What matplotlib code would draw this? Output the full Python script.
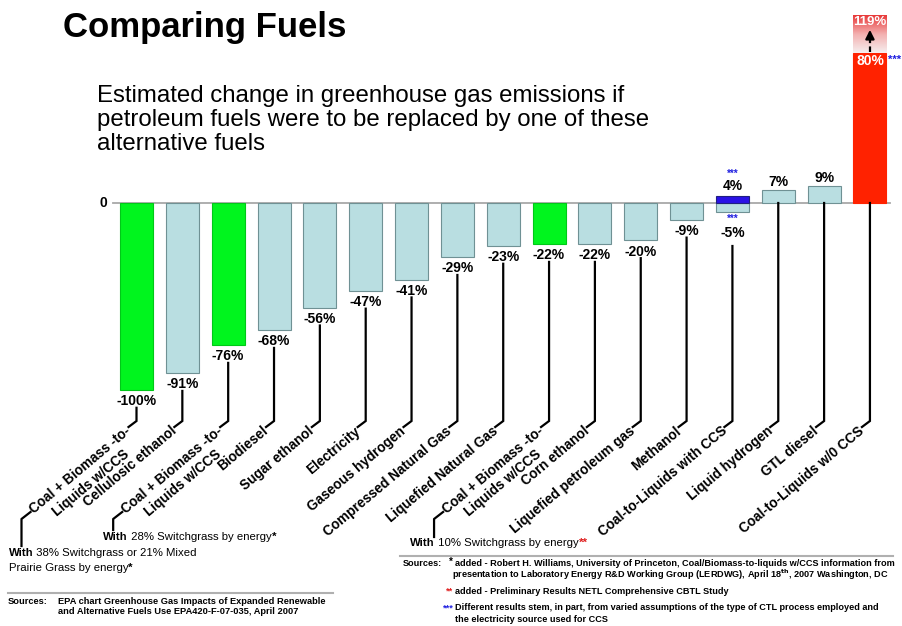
import numpy as np
import matplotlib.pyplot as plt
from matplotlib.colors import LinearSegmentedColormap
from matplotlib.lines import Line2D

plt.rcParams['font.family'] = ['Liberation Sans', 'DejaVu Sans']

# values (% change vs petroleum)
fuels = ["Coal + Biomass -to-\nLiquids w/CCS", "Cellulosic ethanol",
         "Coal + Biomass -to-\nLiquids w/CCS", "Biodiesel", "Sugar ethanol",
         "Electricity", "Gaseous hydrogen", "Compressed Natural Gas",
         "Liquefied Natural Gas", "Coal + Biomass -to-\nLiquids w/CCS",
         "Corn ethanol", "Liquefied petroleum gas", "Methanol",
         "Coal-to-Liquids with CCS", "Liquid hydrogen", "GTL diesel",
         "Coal-to-Liquids w/0 CCS"]
change = [-100, -91, -76, -68, -56, -47, -41, -29, -23, -22, -22, -20, -9,
          -5, 7, 9, 80]
group = ['cbtl', 'other', 'cbtl', 'other', 'other', 'other', 'other', 'other',
         'other', 'cbtl', 'other', 'other', 'other', 'ccs', 'other', 'other',
         'ctl']
ccs_upper = 4     # second estimate for CTL with CCS
ctl_upper = 119   # second estimate for CTL without CCS

note_bar = [0, 2, 9]
note_text = [["With 38% Switchgrass or 21% Mixed", "Prairie Grass by energy"],
             ["With 28% Switchgrass by energy"],
             ["With 10% Switchgrass by energy"]]
note_star = ["*", "*", "**"]

palette = {'cbtl': '#00F51E', 'other': '#B9DEE1', 'ccs': '#B9DEE1', 'ctl': '#FF2200'}
edges = {'cbtl': '#00C818', 'other': '#6F9194', 'ccs': '#6F9194', 'ctl': '#FF2200'}

# pixel layout of the original picture
W, H = 902, 626
X0, DX = 136.5, 45.84   # centre of first bar, bar spacing
Y0, DY = 203, 1.87      # zero line, pixels per percent


def xpx(p):
    return (p - X0) / DX


def ypx(p):
    return (Y0 - p) / DY


fig = plt.figure(figsize=(W / 100, H / 100), dpi=100)
ax = fig.add_axes([0, 0, 1, 1])
ax.axis('off')

x = np.arange(len(fuels))
bw = 0.72
ax.axhline(0, xmin=113 / W, xmax=890 / W, color='#A8A8A8', lw=1.3, zorder=1)
ax.bar(x, change, width=bw, color=[palette[g] for g in group],
       edgecolor=[edges[g] for g in group], linewidth=0.8, zorder=2)
i_ccs = group.index('ccs')
ax.bar(i_ccs, ccs_upper, width=bw, color='#2A12E6', edgecolor='#202080',
       linewidth=0.8, zorder=2)
ax.text(xpx(103), 0, '0', ha='center', va='center', fontsize=10, fontweight='bold')

# faded top of the coal-to-liquids bar
i_ctl = group.index('ctl')
top = min(ctl_upper, 100)
fade = LinearSegmentedColormap.from_list('fade', ['#F6EEEE', '#F3B0B0', '#E83A3A'])
ax.imshow(np.linspace(0, 1, 64).reshape(-1, 1), cmap=fade, origin='lower',
          extent=(i_ctl - bw / 2, i_ctl + bw / 2, change[i_ctl], top),
          aspect='auto', zorder=2)
ax.plot([i_ctl, i_ctl], [change[i_ctl] + 0.5, ypx(37)], color='k', lw=1.6,
        dashes=(2.5, 1.5), zorder=3)
ax.annotate('', xy=(i_ctl, ypx(27)), xytext=(i_ctl, ypx(38)),
            arrowprops=dict(arrowstyle='-|>', color='k', lw=1.6, mutation_scale=13),
            zorder=3)
ax.text(i_ctl, ypx(22), f'{ctl_upper}%', color='white', ha='center', va='center',
        fontsize=9.5, fontweight='bold', zorder=4)
ax.text(i_ctl, ypx(61), f'{change[i_ctl]}%', color='white', ha='center',
        va='center', fontsize=10, fontweight='bold', zorder=4)
ax.text(xpx(888), ypx(60), '***', color='#2020E0', ha='left', va='center',
        fontsize=8, fontweight='bold')

# value labels
lab = dict(ha='center', fontsize=10, fontweight='bold', textcoords='offset points')
star = dict(ha='center', fontsize=7, fontweight='bold', color='#2020E0',
            textcoords='offset points')
for i, v in enumerate(change):
    if group[i] == 'ctl':
        continue
    if group[i] == 'ccs':
        ax.annotate(f'{v}%', (i, v), xytext=(0, -10), va='top', **lab)
        ax.annotate('***', (i, v), xytext=(0, -1), va='top', **star)
        ax.annotate(f'{ccs_upper}%', (i, ccs_upper), xytext=(0, 1.5), va='bottom', **lab)
        ax.annotate('***', (i, ccs_upper), xytext=(0, 12), va='bottom', **star)
    elif v < 0:
        ax.annotate(f'{v}%', (i, v), xytext=(0, -3), va='top', **lab)
    else:
        ax.annotate(f'{v}%', (i, v), xytext=(0, 1), va='bottom', **lab)

# leader lines and rotated category labels
for i, v in enumerate(change):
    if group[i] == 'ccs':
        y0 = v - 18
    elif v < 0:
        y0 = v - 9.5
    else:
        y0 = 0
    ax.plot([i, i, i - 8 / DX], [y0, ypx(421), ypx(427)], color='k', lw=1.6,
            solid_joinstyle='miter', zorder=3)
    ax.text(i - 12 / DX, ypx(424), fuels[i], rotation=40, rotation_mode='anchor',
            ha='right', va='top', multialignment='center', fontsize=9.8,
            fontweight='bold')


def rich(xp, yp, pieces, size=8.2):
    prev = None
    for s, weight, color in pieces:
        kw = dict(fontsize=size, fontweight=weight, color=color)
        if prev is None:
            prev = ax.text(xpx(xp), ypx(yp), s, ha='left', va='center', **kw)
        else:
            prev = ax.annotate(s, xy=(1, 0), xycoords=prev, ha='left',
                               va='bottom', **kw)


# switchgrass notes for the coal + biomass bars
note_y = [553, 537, 543]
note_low = [546, 530, 537]
note_dx = [-128, -125, -139]
for k, i in enumerate(note_bar):
    xc = X0 + i * DX
    ax.plot([i - 106 / DX, i - 115 / DX, i - 115 / DX],
            [ypx(512), ypx(519), ypx(note_low[k])], color='k', lw=1.6)
    lines = note_text[k]
    scol = '#E02020' if note_star[k] == '**' else 'k'
    for j, line in enumerate(lines):
        last = j == len(lines) - 1
        pieces = []
        if line.startswith('With '):
            pieces += [('With', 'bold', 'k'), (line[4:], 'normal', 'k')]
        else:
            pieces += [(line, 'normal', 'k')]
        if last:
            pieces += [(note_star[k], 'bold', scol)]
        rich(xc + note_dx[k], note_y[k] + 15 * j, pieces)

# titles
fig.text(63 / W, 1 - 27 / H, 'Comparing Fuels', fontsize=25, fontweight='bold',
         va='center')
fig.text(97 / W, 1 - 85 / H,
         'Estimated change in greenhouse gas emissions if\n'
         'petroleum fuels were to be replaced by one of these\n'
         'alternative fuels', fontsize=17.3, va='top', linespacing=1.12)


def ft(xp, yp, s, **kw):
    kw.setdefault('fontsize', 6.6)
    kw.setdefault('fontweight', 'bold')
    fig.text(xp / W, 1 - yp / H, s, va='center', **kw)


def hline(x1, x2, yp):
    fig.add_artist(Line2D([x1 / W, x2 / W], [1 - yp / H, 1 - yp / H],
                          color='#B0B0B0', lw=1.5))


# sources
hline(8, 333, 593)
ft(8, 602, 'Sources:', fontsize=6.7)
ft(58, 602, 'EPA chart Greenhouse Gas Impacts of Expanded Renewable', fontsize=6.7)
ft(58, 611, 'and Alternative Fuels Use EPA420-F-07-035, April 2007', fontsize=6.7)

hline(400, 893, 556)
ft(403, 563, 'Sources:')
ft(449, 562, '*', fontsize=7)
ft(455, 563, 'added - Robert H. Williams, University of Princeton, '
   'Coal/Biomass-to-liquids w/CCS information from')
ft(452, 575, 'presentation to Laboratory Energy R&D Working Group (LERDWG), '
   r'April 18$^{\mathbf{th}}$, 2007 Washington, DC')
ft(446, 591, '**', color='#E02020')
ft(455, 591, 'added - Preliminary Results NETL Comprehensive CBTL Study')
ft(443, 608, '***', color='#2020E0')
ft(455, 608, 'Different results stem, in part, from varied assumptions of the '
   'type of CTL process employed and')
ft(455, 619, 'the electricity source used for CCS')

ax.set_xlim(xpx(0), xpx(W))
ax.set_ylim(ypx(H), ypx(0))

fig.savefig('out.png', dpi=100)
